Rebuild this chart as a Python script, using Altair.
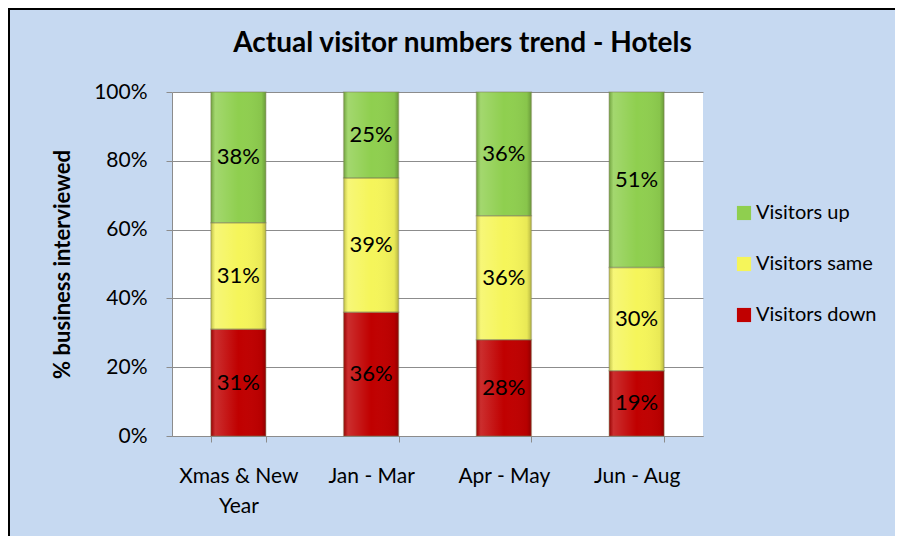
import altair as alt
import pandas as pd

periods = ["Xmas & New Year", "Jan - Mar", "Apr - May", "Jun - Aug"]
series = ["Visitors down", "Visitors same", "Visitors up"]
down = [31, 36, 28, 19]
same = [31, 39, 36, 30]
up = [38, 25, 36, 51]

rows = []
for i, p in enumerate(periods):
    for j, (s, vals) in enumerate(zip(series, [down, same, up])):
        rows.append({"period": p, "series": s, "order": j, "value": vals[i]})
df = pd.DataFrame(rows)

FONT = "Lato"
BG = "#C6D9F1"
GRID = "#8C8C8C"
W, H = 531, 344
PAD_L, PAD_T, PAD_R, PAD_B = 164, 84, 192, 100

legend_order = ["Visitors up", "Visitors same", "Visitors down"]
colors = ["#8FCF4F", "#F5F55A", "#C00000"]

base = alt.Chart(df).transform_stack(
    stack="value", groupby=["period"], as_=["v0", "v1"], offset="normalize",
    sort=[alt.SortField("order", "ascending")]
).transform_calculate(
    mid="(datum.v0 + datum.v1) / 2",
    label="datum.value + '%'"
)

xenc = alt.X("period:N", sort=periods, title=None,
             scale=alt.Scale(paddingInner=0.586, paddingOuter=0.293),
             axis=alt.Axis(labelExpr="datum.label == 'Xmas & New Year' ? ['Xmas & New', 'Year'] : datum.label",
                           labelAngle=0, labelFont=FONT, labelFontSize=21, labelColor="#000000",
                           labelPadding=23, labelLineHeight=30, labelBaseline="top",
                           tickBand="extent", tickSize=6, tickColor=GRID, domainColor=GRID,
                           grid=False))

yenc = alt.Y("v0:Q", scale=alt.Scale(domain=[0, 1]),
             axis=alt.Axis(values=[0, 0.2, 0.4, 0.6, 0.8, 1.0], format=".0%",
                           title="% business interviewed", titleFont=FONT, titleFontSize=22,
                           titleFontWeight="bold", titleColor="#000000",
                           titleX=-110, titleY=H / 2, titleAlign="center", titleBaseline="middle",
                           titleAngle=-90,
                           labelFont=FONT, labelFontSize=21, labelColor="#000000", labelPadding=19,
                           tickSize=6, tickColor=GRID, domainColor=GRID,
                           grid=True, gridColor=GRID, gridWidth=1))

bars = base.mark_bar().encode(
    x=xenc,
    y=yenc,
    y2="v1:Q",
    color=alt.Color("series:N", scale=alt.Scale(domain=legend_order, range=colors),
                    legend=alt.Legend(title=None, orient="none", legendX=562, legendY=111,
                                      labelFont=FONT, labelFontSize=20, labelColor="#000000",
                                      symbolType="square", symbolSize=200, symbolStrokeWidth=0,
                                      rowPadding=31, labelOffset=2)),
    order=alt.Order("order:Q")
)

shine = base.mark_bar(
    fill=alt.Gradient(
        gradient="linear", x1=0, x2=1, y1=0, y2=0,
        stops=[
            alt.GradientStop(offset=0, color="rgba(0,0,0,0.22)"),
            alt.GradientStop(offset=0.08, color="rgba(255,255,255,0.18)"),
            alt.GradientStop(offset=0.5, color="rgba(255,255,255,0.0)"),
            alt.GradientStop(offset=0.92, color="rgba(0,0,0,0.05)"),
            alt.GradientStop(offset=1, color="rgba(0,0,0,0.25)"),
        ]),
    stroke="rgba(120,120,80,0.35)", strokeWidth=1.5
).encode(x=alt.X("period:N", sort=periods), y="v0:Q", y2="v1:Q")

labels = base.mark_text(font=FONT, fontSize=22, color="#000000").encode(
    x=alt.X("period:N", sort=periods),
    y="mid:Q",
    text="label:N"
)

frame_data = alt.Data(values=[{"k": 1}])
top_line = alt.Chart(frame_data).mark_rule(color="#000000", strokeWidth=2).encode(
    x=alt.value(-PAD_L), x2=alt.value(W + PAD_R), y=alt.value(-PAD_T + 1))
left_line = alt.Chart(frame_data).mark_rule(color="#000000", strokeWidth=2).encode(
    x=alt.value(-PAD_L + 1), y=alt.value(-PAD_T), y2=alt.value(H + PAD_B))

chart = alt.layer(bars, shine, labels, top_line, left_line).properties(
    width=W, height=H,
    padding={"left": PAD_L, "top": PAD_T, "right": PAD_R, "bottom": PAD_B},
    autosize=alt.AutoSizeParams(type="none"),
    background=BG,
    title=alt.Title("Actual visitor numbers trend - Hotels", font=FONT, fontSize=28,
                    fontWeight="bold", color="#000000", anchor="middle", dx=25, offset=-51)
).configure_view(fill="#FFFFFF", stroke=None)

chart.save("out.html", embed_options={"renderer": "svg", "actions": False})
